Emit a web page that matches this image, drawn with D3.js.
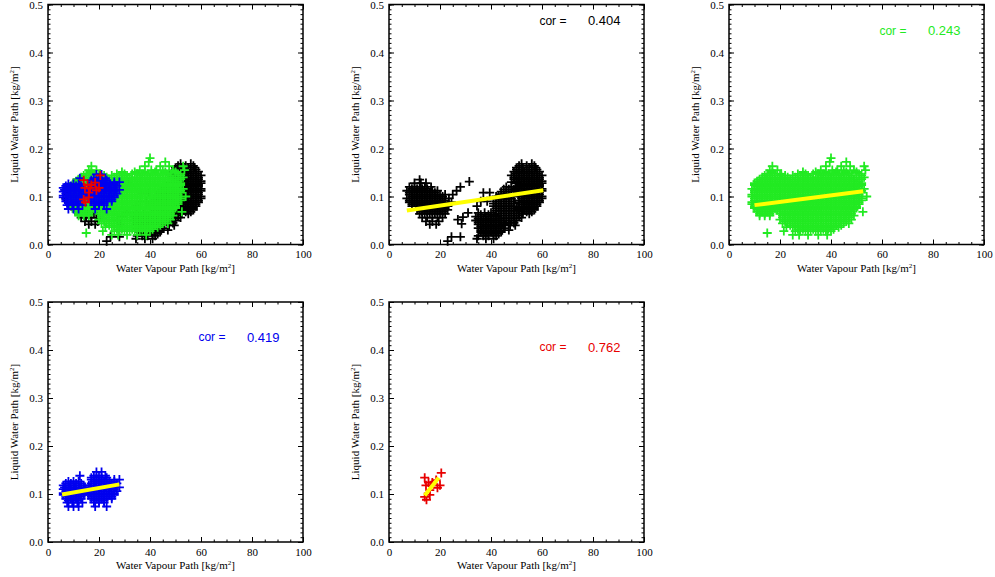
<!DOCTYPE html>
<html>
<head>
<meta charset="utf-8">
<script src="https://cdn.jsdelivr.net/npm/d3@7"></script>
<style>
  body { margin: 0; background: #fff; }
  svg { display: block; }
</style>
</head>
<body>
<svg id="chart" width="995" height="577"></svg>
<script>
// ---- axis ticks ----
const xTicks = [0, 20, 40, 60, 80, 100];
const yTicks = [0, 0.1, 0.2, 0.3, 0.4, 0.5];
const yTickLabels = ["0.0", "0.1", "0.2", "0.3", "0.4", "0.5"];

// ---- scatter data: rows of [LWP, [WVP values ...]] ----
const blackRows = [
  [0.135, [12]],
  [0.128, [10, 12.5, 14.5]],
  [0.12, [8, 10, 12, 14, 16.5, 28]],
  [0.116, [9, 11, 13, 15]],
  [0.112, [7, 9, 11, 13, 15, 17, 19, 26.5]],
  [0.108, [8, 10, 12, 14, 16, 18]],
  [0.104, [8, 10, 12, 14, 16, 18, 20, 22, 25]],
  [0.1, [9, 11, 13, 15, 17, 19, 21]],
  [0.096, [7, 9, 11, 13, 15, 17, 19, 21, 23.5]],
  [0.092, [8, 10, 12, 14, 16, 18, 20, 22]],
  [0.088, [8, 10, 12, 14, 16, 18, 20, 22, 24.5]],
  [0.084, [9, 11, 13, 15, 17, 19, 21]],
  [0.08, [9, 11, 13, 15, 17, 19, 21, 23]],
  [0.076, [12, 14, 16, 18, 20, 22]],
  [0.072, [11, 13, 15, 17, 19, 21, 23]],
  [0.068, [13, 15, 17, 19, 21]],
  [0.064, [12, 14, 16, 18, 20, 22]],
  [0.056, [13, 15, 17, 19, 21]],
  [0.048, [14.5, 17, 19.5]],
  [0.042, [16, 18.5]],
  [0.131, [31.5]],
  [0.066, [31]],
  [0.057, [29]],
  [0.052, [27]],
  [0.043, [28.5]],
  [0.016, [24.5, 28]],
  [0.007, [23]],
  [0.108, [37, 39.5]],
  [0.1, [42]],
  [0.09, [36, 38.5]],
  [0.08, [34.5]],
  [0.066, [35, 37.5, 40]],
  [0.062, [36, 39, 41]],
  [0.058, [34, 36, 38, 40, 42]],
  [0.054, [35, 37, 39, 41, 43]],
  [0.05, [34, 36, 38, 40, 42, 44]],
  [0.046, [35, 37, 39, 41, 43]],
  [0.042, [35, 37, 39, 41, 43, 45]],
  [0.038, [36, 38, 40, 42, 44]],
  [0.034, [35, 37, 39, 41, 43, 45]],
  [0.03, [36, 38, 40, 42, 44]],
  [0.026, [36, 38, 40, 42, 44]],
  [0.022, [37, 39, 41, 43]],
  [0.018, [35, 37, 39, 42]],
  [0.012, [34.5, 38, 41]],
  [0.13, [48, 50]],
  [0.12, [46, 48, 50]],
  [0.115, [45, 47, 49]],
  [0.11, [44, 46, 48]],
  [0.105, [44, 46, 48]],
  [0.1, [43, 45, 47, 49]],
  [0.095, [42, 44, 46, 48]],
  [0.09, [42, 44, 46, 48]],
  [0.085, [41, 43, 45, 47, 49]],
  [0.08, [41, 43, 45, 47, 49]],
  [0.075, [42, 44, 46, 48, 50]],
  [0.07, [42, 44, 46, 48, 50]],
  [0.065, [43, 45, 47, 49, 51]],
  [0.06, [43, 45, 47, 49, 51]],
  [0.055, [44, 46, 48, 50]],
  [0.05, [46, 48, 50]],
  [0.045, [45, 47, 49]],
  [0.04, [45.5, 47.5, 49.5]],
  [0.03, [47]],
  [0.168, [52, 56]],
  [0.164, [51, 54, 57]],
  [0.16, [50, 52.5, 55, 57.5]],
  [0.156, [50, 52, 54, 56, 58]],
  [0.152, [49, 51, 53, 55, 57, 59]],
  [0.148, [50, 52, 54, 56, 58]],
  [0.144, [48, 50, 52, 54, 56, 58, 60]],
  [0.14, [49, 51, 53, 55, 57, 59]],
  [0.136, [49, 51, 53, 55, 57, 59]],
  [0.132, [50, 52, 54, 56, 58, 60]],
  [0.128, [50, 52, 54, 56, 58, 60]],
  [0.124, [51, 53, 55, 57, 59]],
  [0.12, [51, 53, 55, 57, 59]],
  [0.116, [50, 52, 54, 56, 58, 60]],
  [0.112, [50, 52, 54, 56, 58, 60]],
  [0.108, [51, 53, 55, 57, 59]],
  [0.104, [51, 53, 55, 57, 59]],
  [0.1, [52, 54, 56, 58, 60]],
  [0.096, [52, 54, 56, 58, 60]],
  [0.092, [51, 53, 55, 57, 59]],
  [0.088, [51, 53, 55, 57, 59]],
  [0.084, [52, 54, 56, 58]],
  [0.08, [52, 54, 56, 58]],
  [0.076, [51, 53, 55, 57]],
  [0.072, [51, 53, 55, 57]],
  [0.068, [52, 54, 56]],
  [0.064, [52.5, 55]],
  [0.056, [52]]
];

const greenRows = [
  [0.18, [40]],
  [0.172, [39.5, 46]],
  [0.163, [17, 38, 44, 47.5, 53]],
  [0.155, [16, 19, 36, 40.5, 42.5, 45, 49, 53.5]],
  [0.151, [17, 29, 34, 38, 42, 46, 50]],
  [0.147, [15, 18, 20.5, 27, 30, 33, 35, 37, 39, 41, 43, 45, 47, 51]],
  [0.144, [14, 16, 20, 22, 25, 29, 31, 36, 40, 44, 48, 52]],
  [0.14, [13, 15, 17, 19, 21, 23, 26, 28, 30, 32, 34, 36, 38, 40, 42, 44, 46, 48, 50, 53]],
  [0.136, [12, 14, 16, 18, 20, 22, 24, 27, 29, 31, 33, 35, 37, 39, 41, 43, 45, 47, 49, 52]],
  [0.132, [11, 13, 15, 17, 19, 21, 23, 25, 27, 29, 31, 33, 35, 37, 39, 41, 43, 45, 47, 49, 51]],
  [0.128, [10, 12, 14, 16, 18, 20, 22, 24, 26, 28, 30, 32, 34, 36, 38, 40, 42, 44, 46, 48, 50, 52]],
  [0.124, [10, 12, 14, 16, 18, 20, 22, 24, 26, 28, 30, 32, 34, 36, 38, 40, 42, 44, 46, 48, 50, 52]],
  [0.12, [11, 13, 15, 17, 19, 21, 23, 25, 27, 29, 31, 33, 35, 37, 39, 41, 43, 45, 47, 49, 51]],
  [0.116, [9, 11, 13, 15, 17, 19, 21, 23, 25, 27, 29, 31, 33, 35, 37, 39, 41, 43, 45, 47, 49, 51, 53]],
  [0.112, [10, 12, 14, 16, 18, 20, 22, 24, 26, 28, 30, 32, 34, 36, 38, 40, 42, 44, 46, 48, 50, 52]],
  [0.108, [10, 12, 14, 16, 18, 20, 22, 24, 26, 28, 30, 32, 34, 36, 38, 40, 42, 44, 46, 48, 50, 52]],
  [0.104, [9, 11, 13, 15, 17, 19, 21, 23, 25, 27, 29, 31, 33, 35, 37, 39, 41, 43, 45, 47, 49, 51]],
  [0.1, [9, 11, 13, 15, 17, 19, 21, 23, 25, 27, 29, 31, 33, 35, 37, 39, 41, 43, 45, 47, 49, 51, 54]],
  [0.096, [10, 12, 14, 16, 18, 20, 22, 24, 26, 28, 30, 32, 34, 36, 38, 40, 42, 44, 46, 48, 50, 52]],
  [0.092, [10, 12, 14, 16, 18, 20, 22, 24, 26, 28, 30, 32, 34, 36, 38, 40, 42, 44, 46, 48, 50, 52]],
  [0.088, [9, 11, 13, 15, 17, 19, 21, 23, 25, 27, 29, 31, 33, 35, 37, 39, 41, 43, 45, 47, 49, 51]],
  [0.084, [9, 11, 13, 15, 17, 19, 21, 23, 25, 27, 29, 31, 33, 35, 37, 39, 41, 43, 45, 47, 49, 51]],
  [0.08, [10, 12, 14, 16, 18, 20, 22, 24, 26, 28, 30, 32, 34, 36, 38, 40, 42, 44, 46, 48, 50]],
  [0.076, [10, 12, 14, 16, 18, 20, 22, 24, 26, 28, 30, 32, 34, 36, 38, 40, 42, 44, 46, 48, 50]],
  [0.072, [11, 13, 15, 17, 19, 21, 23, 25, 27, 29, 31, 33, 35, 37, 39, 41, 43, 45, 47, 49]],
  [0.068, [11, 13, 15, 17, 20, 22, 24, 26, 28, 30, 32, 34, 36, 38, 40, 42, 44, 46, 48, 52.5]],
  [0.064, [12, 14, 16, 20, 22, 24, 26, 28, 30, 32, 34, 36, 38, 40, 42, 44, 46, 48]],
  [0.06, [12, 14, 16, 21, 23, 25, 27, 29, 31, 33, 35, 37, 39, 41, 43, 45, 47, 49]],
  [0.056, [21, 23, 25, 27, 29, 31, 33, 35, 37, 39, 41, 43, 45, 47]],
  [0.052, [20, 22, 24, 26, 28, 30, 32, 34, 36, 38, 40, 42, 44, 46, 48]],
  [0.048, [22, 24, 26, 28, 30, 32, 34, 36, 38, 40, 42, 44, 46]],
  [0.044, [21, 23, 25, 27, 29, 31, 33, 35, 37, 39, 41, 43, 45, 47]],
  [0.04, [24, 26, 28, 30, 32, 34, 36, 38, 40, 42, 44]],
  [0.036, [22.5, 25, 27, 29, 31, 33, 35, 37, 39, 41, 43]],
  [0.032, [27, 29, 31, 33, 35, 37, 39, 41]],
  [0.028, [21.5, 26, 28, 30, 32, 34, 36, 38, 40]],
  [0.024, [15]],
  [0.02, [25, 27.5, 31, 35, 38.5]]
];

const blueRows = [
  [0.146, [19, 21]],
  [0.138, [12.5, 18, 20, 22.5]],
  [0.134, [17, 19, 21, 23]],
  [0.13, [17, 19, 21, 23, 26, 28]],
  [0.126, [8, 10, 12, 18, 20, 22, 24, 26]],
  [0.122, [7, 9, 11, 13, 17, 19, 21, 23, 25, 27]],
  [0.118, [6, 8, 10, 12, 14, 16, 18, 20, 22, 24, 26]],
  [0.114, [6.5, 8.5, 10.5, 12.5, 14.5, 16.5, 18.5, 20.5, 22.5, 24.5, 26.5, 28]],
  [0.11, [6, 8, 10, 12, 14, 16, 18, 20, 22, 24, 26]],
  [0.106, [7, 9, 11, 13, 15, 17, 19, 21, 23, 25, 27]],
  [0.102, [6, 8, 10, 12, 14, 16, 18, 20, 22, 24, 26]],
  [0.098, [6, 8, 10, 12, 14, 16, 18, 20, 22, 24, 26]],
  [0.094, [7, 9, 11, 13, 17, 19, 21, 23, 25]],
  [0.09, [7, 9, 11, 13, 17, 19, 21, 23, 25]],
  [0.086, [8, 10, 12, 18, 20, 22]],
  [0.082, [7.5, 9.5, 11.5, 13.5, 18, 20, 22]],
  [0.074, [8, 10, 12, 18.5, 23]]
];

const redRows = [
  [0.144, [20.5]],
  [0.134, [14]],
  [0.129, [18.5]],
  [0.124, [15.5, 17]],
  [0.118, [14.5, 16.5, 20]],
  [0.113, [19]],
  [0.108, [16]],
  [0.098, [16]],
  [0.094, [14]],
  [0.088, [14.7]]
];

// ---- linear fits: [[WVP start, LWP start], [WVP end, LWP end]] ----
const fitBlack = [[7, 0.071], [60.5, 0.113]];
const fitGreen = [[10, 0.082], [52.6, 0.111]];
const fitBlue  = [[5.5, 0.099], [28, 0.12]];
const fitRed   = [[14, 0.097], [19.5, 0.134]];

// ---- correlation coefficients ----
const corBlack = "0.404";
const corGreen = "0.243";
const corBlue  = "0.419";
const corRed   = "0.762";

const series = {
  black: { rows: blackRows, color: "#000000", fit: fitBlack, cor: corBlack },
  green: { rows: greenRows, color: "#22ea22", fit: fitGreen, cor: corGreen },
  blue:  { rows: blueRows,  color: "#0000ee", fit: fitBlue,  cor: corBlue },
  red:   { rows: redRows,   color: "#e80000", fit: fitRed,   cor: corRed }
};

// panel layout: plot box position, series drawn, height of the correlation text
const panels = [
  { left: 48,  top: 4.5, show: ["black", "green", "blue", "red"], key: null, labelY: 0 },
  { left: 389, top: 4.5, show: ["black"], key: "black", labelY: 0.467 },
  { left: 729, top: 4.5, show: ["green"], key: "green", labelY: 0.446 },
  { left: 48,  top: 302, show: ["blue"],  key: "blue",  labelY: 0.427 },
  { left: 389, top: 302, show: ["red"],   key: "red",   labelY: 0.406 }
];
const PW = 255, PH = 240;

const svg = d3.select("#chart");
const serif = "'Liberation Serif', 'DejaVu Serif', serif";
const sans = "'Liberation Sans', Arial, sans-serif";

function points(rows) {
  const out = [];
  rows.forEach(([y, xs]) => xs.forEach(x => out.push([x, y])));
  return out;
}

panels.forEach(p => {
  const g = svg.append("g").attr("transform", `translate(${p.left},${p.top})`);
  const x = d3.scaleLinear().domain([0, 100]).range([0, PW]);
  const y = d3.scaleLinear().domain([0, 0.5]).range([PH, 0]);

  // scatter marks
  p.show.forEach(name => {
    const s = series[name];
    g.append("g").selectAll("path")
      .data(points(s.rows))
      .join("path")
      .attr("d", d => `M${x(d[0]) - 4.5},${y(d[1])}h9M${x(d[0])},${y(d[1]) - 4.5}v9`)
      .attr("stroke", s.color)
      .attr("stroke-width", 1.8)
      .attr("fill", "none");
  });

  // regression line and correlation label
  if (p.key) {
    const s = series[p.key];
    g.append("path")
      .attr("d", d3.line().x(d => x(d[0])).y(d => y(d[1]))(s.fit))
      .attr("stroke", "#ffff00")
      .attr("stroke-width", 4)
      .attr("stroke-linecap", "butt")
      .attr("fill", "none");
    g.append("text")
      .attr("x", x(59)).attr("y", y(p.labelY))
      .attr("dy", "0.35em")
      .attr("font-family", sans).attr("font-size", 12)
      .attr("fill", s.color)
      .text("cor =");
    g.append("text")
      .attr("x", x(78)).attr("y", y(p.labelY))
      .attr("dy", "0.35em")
      .attr("font-family", sans).attr("font-size", 13)
      .attr("fill", s.color)
      .text(s.cor);
  }

  // axes: ticks inside the box on all four sides
  const xMinor = d3.range(0, 101, 5);
  const yMinor = d3.range(0, 0.501, 0.01);

  g.append("g").attr("transform", `translate(0,${PH})`)
    .call(d3.axisBottom(x).tickValues(xTicks).tickSize(-5).tickPadding(6).tickFormat(d3.format("d")));
  g.append("g").attr("transform", `translate(0,${PH})`)
    .call(d3.axisBottom(x).tickValues(xMinor).tickSize(-2.5).tickFormat(""));
  g.append("g")
    .call(d3.axisTop(x).tickValues(xTicks).tickSize(-5).tickFormat(""));
  g.append("g")
    .call(d3.axisTop(x).tickValues(xMinor).tickSize(-2.5).tickFormat(""));

  g.append("g")
    .call(d3.axisLeft(y).tickValues(yTicks).tickSize(-5).tickPadding(5)
      .tickFormat((d, i) => yTickLabels[i]));
  g.append("g")
    .call(d3.axisLeft(y).tickValues(yMinor).tickSize(-2.5).tickFormat(""));
  g.append("g").attr("transform", `translate(${PW},0)`)
    .call(d3.axisRight(y).tickValues(yTicks).tickSize(-5).tickFormat(""));
  g.append("g").attr("transform", `translate(${PW},0)`)
    .call(d3.axisRight(y).tickValues(yMinor).tickSize(-2.5).tickFormat(""));

  g.selectAll(".domain").remove();
  g.selectAll(".tick line").attr("stroke", "#000").attr("stroke-width", 1);
  g.selectAll(".tick text").attr("font-family", serif).attr("font-size", 11).attr("fill", "#000");

  // frame
  g.append("rect")
    .attr("width", PW).attr("height", PH)
    .attr("fill", "none").attr("stroke", "#000").attr("stroke-width", 1.5);

  // axis titles
  const xt = g.append("text")
    .attr("x", PW / 2).attr("y", PH + 27)
    .attr("text-anchor", "middle")
    .attr("font-family", serif).attr("font-size", 11);
  xt.append("tspan").text("Water Vapour Path [kg/m");
  xt.append("tspan").attr("font-size", 7).attr("dy", -4).text("2");
  xt.append("tspan").attr("dy", 4).text("]");

  const yt = g.append("text")
    .attr("transform", `translate(-30,${PH / 2}) rotate(-90)`)
    .attr("text-anchor", "middle")
    .attr("font-family", serif).attr("font-size", 11);
  yt.append("tspan").text("Liquid Water Path [kg/m");
  yt.append("tspan").attr("font-size", 7).attr("dy", -4).text("2");
  yt.append("tspan").attr("dy", 4).text("]");
});
</script>
</body>
</html>
